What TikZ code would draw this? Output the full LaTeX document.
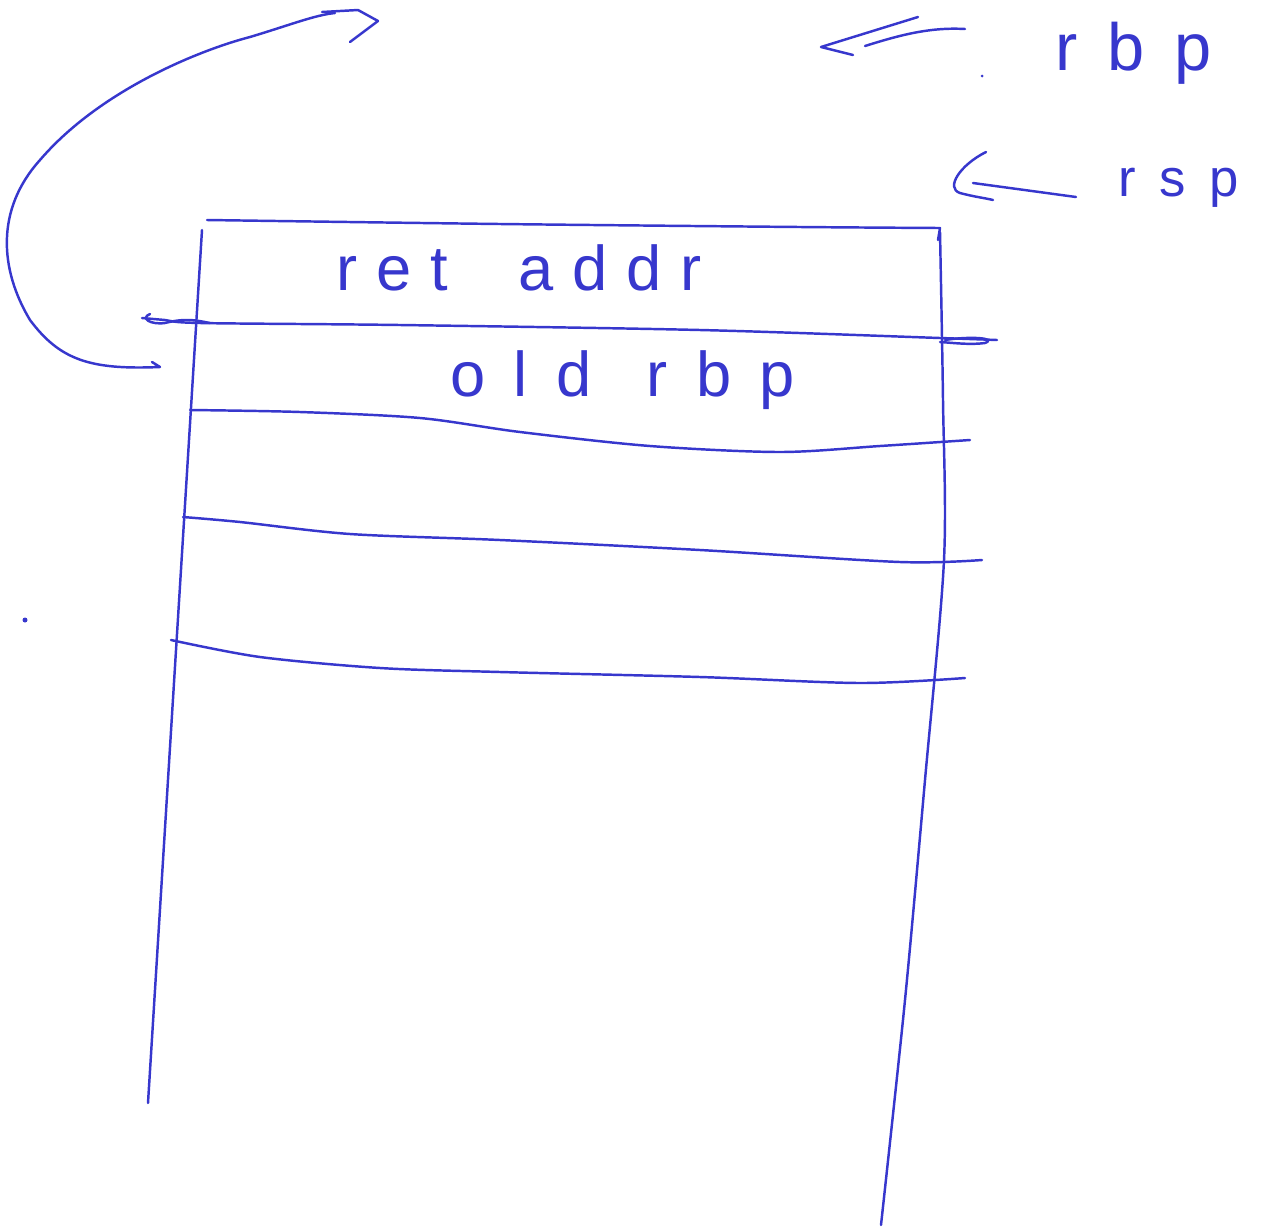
\documentclass[tikz,border=0pt]{standalone}
\usepackage{fontspec}
\newfontfamily\handA[LetterSpace=30]{Liberation Sans}
\newfontfamily\handB[LetterSpace=45]{Liberation Sans}
\definecolor{ink}{RGB}{55,55,205}
\begin{document}
\begin{tikzpicture}[x=0.02cm,y=-0.02cm,
  pen/.style={draw=ink,line width=1.4pt,line cap=round,line join=round},
  lbl/.style={text=ink,inner sep=0pt,anchor=base west}]
\useasboundingbox (0,0) rectangle (1265,1228);
% stack box
\draw[pen] plot[smooth] coordinates {(207,220) (500,224) (800,227) (940,228)} -- (938,240);
\draw[pen] (202,230) -- (148,1103);
\draw[pen] plot[smooth] coordinates {(940,232) (943,400) (944,560) (925,780) (905,1000) (881,1225)};
% row lines
\draw[pen] plot[smooth] coordinates {(142,318) (165,320) (200,323) (400,325) (700,330) (940,338) (997,340)};
\draw[pen] (150,314) .. controls (140,318) and (150,325) .. (165,323) .. controls (185,318) and (195,320) .. (210,323);
\draw[pen] (945,340) .. controls (970,336) and (998,338) .. (985,343) .. controls (970,345) and (955,343) .. (940,342);
\draw[pen] plot[smooth] coordinates {(190,410) (300,412) (420,418) (520,432) (650,446) (780,452) (880,446) (970,440)};
\draw[pen] plot[smooth] coordinates {(183,517) (240,522) (350,534) (500,540) (700,550) (900,562) (982,560)};
\draw[pen] plot[smooth] coordinates {(171,640) (260,657) (380,668) (500,672) (700,677) (860,683) (965,678)};
% labels
\node[lbl] (ret) at (336,290) {\handA\fontsize{36}{40}\selectfont ret\hspace{1.4cm}addr};
\node[lbl] (old) at (450,396) {\handB\fontsize{36}{40}\selectfont old\hspace{1.1cm}rbp};
\node[lbl] (rbp) at (1055,70) {\handB\fontsize{38}{40}\selectfont rbp};
\node[lbl] (rsp) at (1118,196) {\handB\fontsize{30}{34}\selectfont rsp};
% rbp arrow
\coordinate (rbpT) at (965,29);
\coordinate (rbpH) at (865,46);
\draw[pen] (rbpT) .. controls (930,27) and (900,35) .. (rbpH);
\draw[pen] (918,17) -- (821,47) -- (853,55);
\fill[ink] (982,76) circle (1.5);
% rsp arrow
\coordinate (rspT) at (1076,197);
\coordinate (rspH) at (973,183);
\draw[pen] (rspT) -- (rspH);
\draw[pen] (986,152) .. controls (960,165) and (945,188) .. (960,193) .. controls (975,197) and (985,198) .. (993,200);
% return arrow
\coordinate (from) at (160,367);
\coordinate (to) at (335,13);
\draw[pen] (152,362) -- (from) .. controls (90,370) and (60,360) .. (30,320)
  .. controls (0,270) and (-5,210) .. (40,160) .. controls (100,90) and (200,50) .. (250,37)
  .. controls (290,25) and (315,15) .. (to);
\draw[pen] (322,12) -- (358,10) -- (378,21) -- (350,42);
% dot
\fill[ink] (25,620) circle (2.5);
\end{tikzpicture}
\end{document}
